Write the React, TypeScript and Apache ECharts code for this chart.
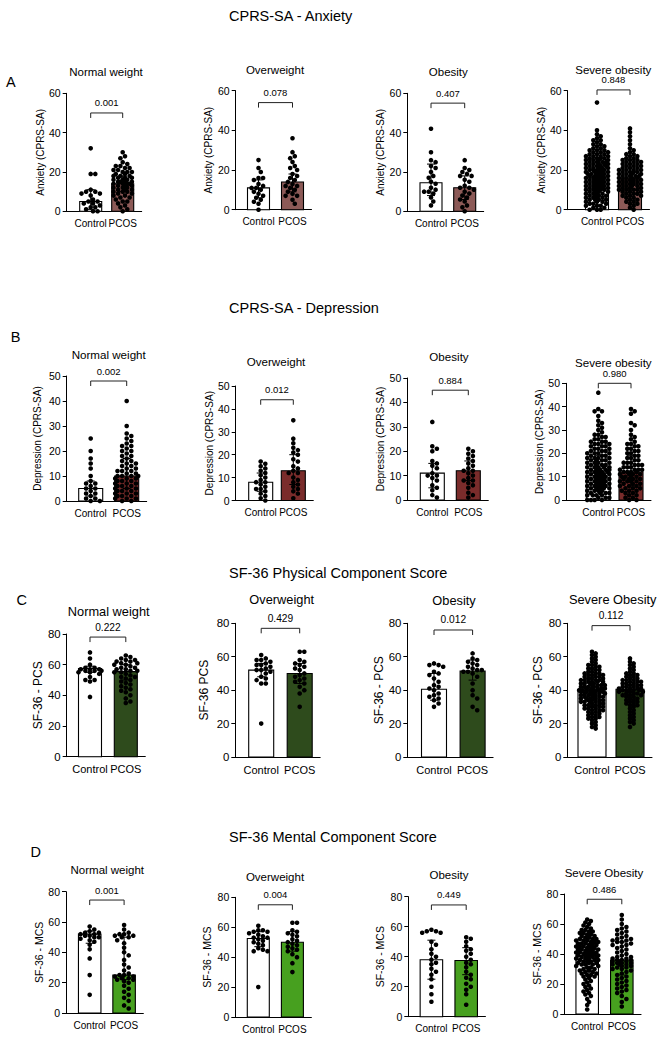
import React, { useEffect, useRef } from 'react';
import * as echarts from 'echarts';

// ---------------- DATA ----------------
const categories = ['Control', 'PCOS'];
const sectionTitles = ['CPRS-SA - Anxiety', 'CPRS-SA - Depression', 'SF-36 Physical Component Score', 'SF-36 Mental Component Score'];
const sectionLetters = ['A', 'B', 'C', 'D'];
const panelTitles = [
  'Normal weight', 'Overweight', 'Obesity', 'Severe obesity',
  'Normal weight', 'Overweight', 'Obesity', 'Severe obesity',
  'Normal weight', 'Overweight', 'Obesity', 'Severe Obesity',
  'Normal weight', 'Overweight', 'Obesity', 'Severe Obesity',
];
const yAxisNames = [
  'Anxiety (CPRS-SA)', 'Anxiety (CPRS-SA)', 'Anxiety (CPRS-SA)', 'Anxiety (CPRS-SA)',
  'Depression (CPRS-SA)', 'Depression (CPRS-SA)', 'Depression (CPRS-SA)', 'Depression (CPRS-SA)',
  'SF-36 - PCS', 'SF-36 PCS', 'SF-36 - PCS', 'SF-36 - PCS',
  'SF-36 - MCS', 'SF-36 - MCS', 'SF-36 - MCS', 'SF-36 - MCS',
];
const yMaxes = [60, 60, 60, 60, 50, 50, 50, 50, 80, 80, 80, 80, 80, 80, 80, 80];
const yIntervals = [20, 20, 20, 20, 10, 10, 10, 10, 20, 20, 20, 20, 20, 20, 20, 20];
const pValues = ['0.001', '0.078', '0.407', '0.848', '0.002', '0.012', '0.884', '0.980', '0.222', '0.429', '0.012', '0.112', '0.001', '0.004', '0.449', '0.486'];
const bracketLevels = [50, 54, 55, 60.4, 48, 44, 45, 50, 78, 77, 76, 78.6, 74.5, 75, 74.5, 76.5];
const barMedians = [
  [5, 14], [11, 14], [14.5, 12], [16.5, 16],
  [5, 10], [8, 13], [11, 12], [12, 12],
  [57.5, 55.5], [52, 50], [40.5, 51.5], [39, 40.5],
  [52, 25], [52.5, 50], [38, 37.5], [39, 36],
];
const errorLow = [
  [1, 10], [6, 9], [8, 6], [10, 10],
  [2, 5], [4, 7], [5, 8], [6, 6],
  [55, 50], [48, 44], [34, 46], [31, 33],
  [46, 22], [47, 44], [25, 28], [28, 26],
];
const errorHigh = [
  [11, 18], [15, 18], [24, 18], [24, 22],
  [8, 17], [12, 20], [15, 16], [19, 19],
  [59, 60], [56, 56], [50, 58], [48, 48],
  [54, 50], [57, 57], [51, 46], [50, 48],
];

// Anxiety
const a1Control = [32, 19, 19, 11, 10, 10, 9, 9, 8, 6, 5, 5, 4, 4, 3, 2, 2, 1, 0, 0];
const a1Pcos = [30, 28, 27, 25, 24, 23, 23, 22, 22, 21, 21, 20, 20, 20, 19, 19, 18, 18, 18, 17, 17, 17, 16, 16, 16, 15, 15, 15, 15, 14, 14, 14, 14, 13, 13, 13, 12, 12, 12, 11, 11, 11, 10, 10, 10, 9, 9, 8, 8, 7, 7, 6, 5, 5, 4, 3, 2, 1, 0];
const a2Control = [25, 21, 19, 16, 16, 15, 13, 12, 11, 11, 10, 9, 8, 7, 6, 5, 4, 3, 0];
const a2Pcos = [36, 29, 27, 26, 24, 22, 21, 20, 18, 17, 16, 15, 14, 13, 12, 12, 11, 10, 9, 8, 7, 7, 5, 3];
const a3Control = [42, 30, 26, 25, 23, 22, 20, 18, 17, 15, 14, 12, 11, 10, 10, 9, 7, 5, 3];
const a3Pcos = [26, 22, 21, 20, 19, 18, 18, 16, 15, 13, 12, 12, 11, 10, 9, 8, 7, 6, 5, 3, 2, 0];
const a4Control = [54, 40, 38, 37, 36, 35, 35, 34, 33, 33, 32, 32, 31, 31, 30, 30, 30, 29, 29, 29, 28, 28, 28, 27, 27, 27, 27, 26, 26, 26, 26, 25, 25, 25, 25, 24, 24, 24, 24, 23, 23, 23, 23, 23, 22, 22, 22, 22, 21, 21, 21, 21, 21, 20, 20, 20, 20, 20, 19, 19, 19, 19, 19, 18, 18, 18, 18, 18, 17, 17, 17, 17, 17, 16, 16, 16, 16, 16, 15, 15, 15, 15, 15, 14, 14, 14, 14, 14, 13, 13, 13, 13, 13, 12, 12, 12, 12, 12, 11, 11, 11, 11, 11, 10, 10, 10, 10, 10, 9, 9, 9, 9, 8, 8, 8, 8, 7, 7, 7, 7, 6, 6, 6, 6, 5, 5, 5, 5, 4, 4, 4, 3, 3, 3, 2, 2, 2, 1, 1, 0, 0, 0];
const a4Pcos = [41, 39, 37, 35, 33, 31, 30, 29, 28, 28, 27, 27, 26, 26, 25, 25, 25, 24, 24, 24, 23, 23, 23, 22, 22, 22, 21, 21, 21, 20, 20, 20, 20, 19, 19, 19, 19, 18, 18, 18, 18, 17, 17, 17, 17, 16, 16, 16, 16, 15, 15, 15, 15, 14, 14, 14, 14, 13, 13, 13, 13, 12, 12, 12, 12, 11, 11, 11, 10, 10, 10, 10, 9, 9, 9, 8, 8, 8, 7, 7, 7, 6, 6, 5, 5, 4, 4, 3, 3, 2, 1, 0];

// Depression
const b1Control = [25, 20, 17, 15, 13, 10, 8, 7, 7, 6, 5, 5, 4, 3, 3, 2, 1, 1, 0, 0];
const b1Pcos = [40, 30, 27, 26, 25, 24, 23, 22, 22, 21, 20, 20, 19, 18, 18, 17, 16, 16, 15, 15, 14, 14, 13, 13, 12, 12, 12, 11, 11, 10, 10, 10, 10, 9, 9, 9, 8, 8, 8, 7, 7, 7, 6, 6, 6, 5, 5, 5, 4, 4, 4, 3, 3, 3, 2, 2, 2, 1, 1, 1, 0, 0];
const b2Control = [17, 16, 15, 14, 13, 12, 11, 10, 9, 8, 8, 7, 6, 5, 5, 4, 3, 2, 1, 0];
const b2Pcos = [35, 27, 25, 23, 22, 21, 20, 18, 17, 15, 14, 13, 12, 12, 10, 9, 8, 7, 6, 5, 4, 3, 1];
const b3Control = [32, 22, 21, 20, 16, 15, 14, 13, 11, 10, 10, 9, 8, 6, 5, 4, 2, 1];
const b3Pcos = [21, 20, 19, 18, 17, 16, 15, 14, 13, 12, 12, 11, 10, 9, 8, 8, 7, 6, 5, 3, 2, 1];
const b4Control = [46, 39, 38, 38, 36, 34, 33, 32, 31, 30, 29, 28, 28, 27, 27, 26, 26, 25, 25, 25, 24, 24, 24, 23, 23, 23, 22, 22, 22, 21, 21, 21, 20, 20, 20, 20, 19, 19, 19, 18, 18, 18, 18, 17, 17, 17, 17, 16, 16, 16, 16, 15, 15, 15, 15, 14, 14, 14, 14, 14, 13, 13, 13, 13, 13, 12, 12, 12, 12, 12, 11, 11, 11, 11, 11, 10, 10, 10, 10, 10, 9, 9, 9, 9, 9, 8, 8, 8, 8, 8, 7, 7, 7, 7, 7, 6, 6, 6, 6, 6, 5, 5, 5, 5, 5, 4, 4, 4, 4, 3, 3, 3, 3, 2, 2, 2, 2, 1, 1, 1, 0, 0, 0, 0];
const b4Pcos = [39, 38, 37, 33, 32, 30, 28, 27, 26, 25, 24, 24, 23, 23, 22, 22, 21, 21, 20, 20, 19, 19, 18, 18, 17, 17, 16, 16, 16, 15, 15, 15, 14, 14, 14, 13, 13, 13, 13, 12, 12, 12, 12, 11, 11, 11, 11, 10, 10, 10, 10, 9, 9, 9, 9, 8, 8, 8, 8, 7, 7, 7, 6, 6, 6, 5, 5, 5, 4, 4, 4, 3, 3, 2, 2, 1, 1, 0, 0];

// SF-36 PCS
const c1Control = [68, 64, 60, 58, 58, 57, 57, 57, 56, 56, 56, 55, 55, 54, 52, 50, 50, 49, 39];
const c1Pcos = [66, 65, 64, 63, 63, 62, 62, 61, 61, 60, 60, 59, 58, 58, 57, 57, 56, 56, 55, 55, 54, 53, 52, 52, 51, 50, 49, 48, 47, 46, 45, 44, 43, 42, 40, 38, 36, 35];
const c2Control = [61, 59, 58, 58, 57, 56, 55, 55, 54, 53, 52, 52, 51, 50, 48, 47, 46, 44, 44, 20];
const c2Pcos = [63, 63, 58, 57, 56, 55, 54, 53, 52, 50, 49, 48, 47, 46, 45, 44, 42, 40, 38, 30];
const c3Control = [56, 55, 55, 54, 51, 50, 49, 47, 45, 43, 42, 41, 40, 38, 37, 36, 35, 34, 32, 30];
const c3Pcos = [62, 59, 58, 57, 56, 55, 54, 53, 52, 52, 51, 51, 50, 48, 44, 40, 37, 35, 30, 28];
const c4Control = [63, 62, 61, 60, 59, 58, 57, 56, 55, 55, 54, 54, 53, 53, 52, 52, 51, 51, 50, 50, 50, 49, 49, 49, 48, 48, 48, 47, 47, 47, 46, 46, 46, 46, 45, 45, 45, 45, 44, 44, 44, 44, 43, 43, 43, 43, 42, 42, 42, 42, 41, 41, 41, 41, 41, 40, 40, 40, 40, 40, 39, 39, 39, 39, 39, 38, 38, 38, 38, 38, 37, 37, 37, 37, 36, 36, 36, 36, 35, 35, 35, 35, 34, 34, 34, 34, 33, 33, 33, 33, 32, 32, 32, 31, 31, 31, 30, 30, 30, 29, 29, 29, 28, 28, 28, 27, 27, 26, 26, 25, 25, 24, 24, 23, 23, 22, 21, 20, 19, 18, 17];
const c4Pcos = [59, 57, 56, 55, 54, 53, 52, 51, 50, 50, 49, 49, 48, 48, 47, 47, 46, 46, 46, 45, 45, 45, 44, 44, 44, 43, 43, 43, 42, 42, 42, 41, 41, 41, 41, 40, 40, 40, 40, 39, 39, 39, 38, 38, 38, 37, 37, 37, 36, 36, 35, 35, 34, 34, 33, 33, 32, 32, 31, 31, 30, 29, 28, 27, 26, 25, 24, 23, 22, 21, 20, 18];

// SF-36 MCS
const d1Control = [57, 55, 54, 53, 53, 52, 52, 51, 51, 50, 50, 49, 48, 47, 45, 42, 36, 25, 12];
const d1Pcos = [58, 55, 53, 52, 52, 51, 51, 50, 50, 48, 46, 43, 40, 38, 35, 32, 30, 28, 26, 25, 25, 24, 24, 23, 23, 22, 22, 21, 20, 18, 16, 14, 12, 10, 8, 5, 3];
const d2Control = [61, 58, 58, 57, 57, 56, 55, 54, 53, 53, 52, 51, 50, 49, 48, 46, 45, 44, 44, 20];
const d2Pcos = [63, 63, 58, 57, 56, 55, 54, 52, 51, 50, 49, 48, 47, 46, 45, 44, 42, 40, 36, 30];
const d3Control = [58, 57, 57, 56, 56, 50, 48, 45, 42, 40, 38, 36, 35, 32, 30, 28, 25, 20, 15, 10];
const d3Pcos = [53, 52, 50, 47, 45, 44, 42, 40, 38, 36, 35, 33, 30, 28, 26, 25, 22, 20, 18, 15, 8];
const d4Control = [63, 62, 61, 60, 59, 58, 57, 56, 56, 55, 55, 54, 54, 53, 53, 52, 52, 51, 51, 50, 50, 50, 49, 49, 49, 48, 48, 48, 47, 47, 47, 46, 46, 46, 45, 45, 45, 44, 44, 44, 43, 43, 43, 42, 42, 42, 41, 41, 41, 40, 40, 40, 40, 39, 39, 39, 39, 38, 38, 38, 38, 37, 37, 37, 36, 36, 36, 35, 35, 35, 34, 34, 34, 33, 33, 33, 32, 32, 31, 31, 30, 30, 29, 29, 28, 28, 27, 27, 26, 26, 25, 25, 24, 23, 22, 21, 20, 19, 18, 17, 16, 15, 14, 13, 12, 10, 8, 6, 3];
const d4Pcos = [66, 63, 60, 58, 57, 56, 55, 54, 53, 52, 51, 50, 50, 49, 49, 48, 48, 47, 46, 46, 45, 44, 43, 42, 41, 40, 39, 38, 38, 37, 37, 36, 36, 36, 35, 35, 35, 34, 34, 34, 33, 33, 33, 32, 32, 31, 31, 30, 30, 29, 28, 27, 26, 25, 24, 23, 22, 21, 20, 19, 18, 17, 16, 15, 14, 12, 10, 8, 5];

const dotSets = [
  [a1Control, a1Pcos], [a2Control, a2Pcos], [a3Control, a3Pcos], [a4Control, a4Pcos],
  [b1Control, b1Pcos], [b2Control, b2Pcos], [b3Control, b3Pcos], [b4Control, b4Pcos],
  [c1Control, c1Pcos], [c2Control, c2Pcos], [c3Control, c3Pcos], [c4Control, c4Pcos],
  [d1Control, d1Pcos], [d2Control, d2Pcos], [d3Control, d3Pcos], [d4Control, d4Pcos],
];

// ---------------- LAYOUT / STYLE ----------------
const FONT = "'Liberation Sans', Arial, Helvetica, sans-serif";
const pcosColors = ['#8c5a57', '#7a2c2b', '#2e4b1c', '#47a01f'];
const rowFonts = [
  { title: 11.5, tick: 10.5, p: 9.5, name: 10, cat: 10 },
  { title: 11.6, tick: 10.5, p: 9.5, name: 10, cat: 10 },
  { title: 12.8, tick: 11.4, p: 10.2, name: 12, cat: 11 },
  { title: 11.5, tick: 10.5, p: 9.5, name: 10.5, cat: 10 },
];
const sectionPos = [[229, 16], [229, 308.3], [229, 573.3], [229, 836.7]];
const letterPos = [[10.8, 81.7], [15.5, 336.7], [21.7, 600], [35.7, 851.7]];
const layout = [
  { ax: 66.7, c0: 90.7, c1: 122.7, top: 93.3, zero: 211.3, bw: 22, tx: 106, ty: 72, nx: 40 },
  { ax: 235.7, c0: 258.5, c1: 292.5, top: 90.7, zero: 209.7, bw: 22, tx: 275, ty: 70, nx: 208.7 },
  { ax: 407.3, c0: 431, c1: 464.7, top: 93.3, zero: 211.3, bw: 22, tx: 448.3, ty: 72.3, nx: 381 },
  { ax: 567.7, c0: 597, c1: 630, top: 90.7, zero: 209.7, bw: 23, tx: 613.3, ty: 70, nx: 547.3 },
  { ax: 66.7, c0: 90.7, c1: 126.7, top: 376, zero: 501, bw: 24, tx: 108.7, ty: 354, nx: 37.3 },
  { ax: 235.7, c0: 260.7, c1: 293.3, top: 386, zero: 500.5, bw: 24, tx: 276, ty: 361.7, nx: 209.3 },
  { ax: 407.3, c0: 432.3, c1: 468.3, top: 378, zero: 500, bw: 24, tx: 449, ty: 356.7, nx: 381.7 },
  { ax: 566, c0: 598.3, c1: 631, top: 383.3, zero: 500, bw: 24, tx: 613.3, ty: 362.7, nx: 547.3 },
  { ax: 66.7, c0: 90, c1: 125.8, top: 634, zero: 756.7, bw: 23, tx: 108.7, ty: 611.7, nx: 40 },
  { ax: 235.3, c0: 261.2, c1: 299.7, top: 623.3, zero: 757, bw: 25, tx: 281.7, ty: 599.3, nx: 204 },
  { ax: 407.3, c0: 434, c1: 472.6, top: 623.3, zero: 757, bw: 25, tx: 454, ty: 600, nx: 380.7 },
  { ax: 567.3, c0: 592, c1: 630, top: 623.3, zero: 757, bw: 28, tx: 612.7, ty: 599.3, nx: 538.3 },
  { ax: 66, c0: 89.7, c1: 124.1, top: 891.7, zero: 1013, bw: 22.5, tx: 107.3, ty: 870, nx: 40 },
  { ax: 235.3, c0: 258.3, c1: 292.4, top: 897.3, zero: 1017, bw: 22, tx: 275, ty: 876.7, nx: 207.7 },
  { ax: 408.3, c0: 431.4, c1: 466.2, top: 896.7, zero: 1016.7, bw: 22.5, tx: 449, ty: 875, nx: 380 },
  { ax: 564.3, c0: 587.2, c1: 621.8, top: 894, zero: 1014, bw: 22.5, tx: 604, ty: 872.7, nx: 537.3 },
];
const DOT_R = 2.3;

// deterministic beeswarm placement (pixel offsets); dense groups pack with some overlap
function swarmOffsets(vals: number[], pxPerUnit: number, maxHalf: number, d: number): number[] {
  const dense = vals.length > 70;
  const idx = vals.map((_, i) => i).sort((a, b) => vals[b] - vals[a]);
  const placed: { x: number; y: number }[] = [];
  const out: number[] = new Array(vals.length).fill(0);
  const step = dense ? d * 0.4 : d * 0.5;
  const thr = dense ? d * 0.72 : d * 0.9;
  const cands: number[] = [0];
  for (let k = 1; k * step <= maxHalf; k++) cands.push(k * step, -k * step);
  for (const i of idx) {
    const y = vals[i] * pxPerUnit;
    let best = 0;
    let bestScore = -Infinity;
    for (const cx of cands) {
      let minD = Infinity;
      for (const p of placed) {
        const dy = p.y - y;
        if (Math.abs(dy) >= d) continue;
        const dx = p.x - cx;
        const dd = Math.sqrt(dx * dx + dy * dy);
        if (dd < minD) minD = dd;
      }
      if (minD >= thr) { best = cx; break; }
      if (minD > bestScore) { bestScore = minD; best = cx; }
    }
    placed.push({ x: best, y });
    out[i] = best;
  }
  return out;
}

function buildOption(): any {
  const grids: any[] = [];
  const xAxes: any[] = [];
  const yAxes: any[] = [];
  const series: any[] = [];
  const graphics: any[] = [];

  sectionTitles.forEach((t, r) => {
    graphics.push({ type: 'text', x: sectionPos[r][0], y: sectionPos[r][1], silent: true,
      style: { text: t, fontSize: 14.5, fontFamily: FONT, fill: '#000', align: 'left', verticalAlign: 'middle' } });
    graphics.push({ type: 'text', x: letterPos[r][0], y: letterPos[r][1], silent: true,
      style: { text: sectionLetters[r], fontSize: 14.5, fontFamily: FONT, fill: '#000', align: 'center', verticalAlign: 'middle' } });
  });

  layout.forEach((L, i) => {
    const row = Math.floor(i / 4);
    const F = rowFonts[row];
    const color = pcosColors[row];
    const sp = L.c1 - L.c0;
    const xmin = -(L.c0 - L.ax) / sp;
    const rightPx = L.c1 + L.bw / 2 + 8;
    const xmax = 1 + (rightPx - L.c1) / sp;
    const pxPerUnit = (L.zero - L.top) / yMaxes[i];
    const bw = L.bw;

    graphics.push({ type: 'text', x: L.tx, y: L.ty, silent: true,
      style: { text: panelTitles[i], fontSize: F.title, fontFamily: FONT, fill: '#000', align: 'center', verticalAlign: 'middle' } });

    grids.push({ left: L.ax, top: L.top, width: rightPx - L.ax, height: L.zero - L.top });
    xAxes.push({
      type: 'value', gridIndex: i, min: xmin, max: xmax,
      axisLine: { show: true, onZero: false, lineStyle: { color: '#000', width: 1 } },
      axisTick: { show: false },
      splitLine: { show: false },
      axisLabel: {
        customValues: [0, 1],
        formatter: (v: number) => (Math.abs(v) < 1e-6 ? categories[0] : Math.abs(v - 1) < 1e-6 ? categories[1] : ''),
        fontSize: F.cat, fontFamily: FONT, color: '#000', margin: 7,
      },
    });
    yAxes.push({
      type: 'value', gridIndex: i, min: 0, max: yMaxes[i], interval: yIntervals[i],
      axisLine: { show: true, onZero: false, lineStyle: { color: '#000', width: 1 } },
      axisTick: { show: true, length: 4, lineStyle: { color: '#000', width: 1 } },
      axisLabel: { fontSize: F.tick, fontFamily: FONT, color: '#000', margin: 6 },
      splitLine: { show: false },
      name: yAxisNames[i], nameLocation: 'middle', nameGap: (L.ax - L.nx) - F.name / 2,
      nameTextStyle: { fontSize: F.name, fontFamily: FONT, color: '#000' },
    });

    const barData = [0, 1].map((g) => [g, barMedians[i][g], errorLow[i][g], errorHigh[i][g]]);

    series.push({
      type: 'custom', xAxisIndex: i, yAxisIndex: i, z: 2, encode: { x: 0, y: 1 },
      data: barData,
      renderItem: (params: any, api: any) => {
        const g = api.value(0);
        const c = api.coord([g, api.value(1)]);
        const b = api.coord([g, 0]);
        return { type: 'rect', shape: { x: c[0] - bw / 2, y: c[1], width: bw, height: b[1] - c[1] },
          style: { fill: g === 0 ? '#ffffff' : color, stroke: '#000', lineWidth: 1.1 } };
      },
    });

    const dotData: any[] = [];
    [0, 1].forEach((g) => {
      const vals = dotSets[i][g];
      const offs = swarmOffsets(vals, pxPerUnit, bw / 2, DOT_R * 2);
      vals.forEach((v, k) => dotData.push([g, v, offs[k]]));
    });
    series.push({
      type: 'custom', xAxisIndex: i, yAxisIndex: i, z: 3, encode: { x: 0, y: 1 },
      data: dotData,
      renderItem: (params: any, api: any) => {
        const p = api.coord([api.value(0), api.value(1)]);
        return { type: 'circle', shape: { cx: p[0] + api.value(2), cy: p[1], r: DOT_R }, style: { fill: '#000' } };
      },
    });

    series.push({
      type: 'custom', xAxisIndex: i, yAxisIndex: i, z: 4, encode: { x: 0, y: 1 },
      data: barData,
      renderItem: (params: any, api: any) => {
        const g = api.value(0);
        const lo = api.coord([g, api.value(2)]);
        const hi = api.coord([g, api.value(3)]);
        const cw = 4;
        const st = { stroke: '#000', lineWidth: 1 };
        return { type: 'group', children: [
          { type: 'line', shape: { x1: lo[0], y1: lo[1], x2: hi[0], y2: hi[1] }, style: st },
          { type: 'line', shape: { x1: hi[0] - cw, y1: hi[1], x2: hi[0] + cw, y2: hi[1] }, style: st },
          { type: 'line', shape: { x1: lo[0] - cw, y1: lo[1], x2: lo[0] + cw, y2: lo[1] }, style: st },
        ] };
      },
    });

    series.push({
      type: 'custom', xAxisIndex: i, yAxisIndex: i, z: 4, encode: { x: 0, y: 1 },
      data: [[0, bracketLevels[i]]],
      renderItem: (params: any, api: any) => {
        const lvl = api.value(1);
        const p0 = api.coord([0, lvl]);
        const p1 = api.coord([1, lvl]);
        const leg = 5;
        return { type: 'group', children: [
          { type: 'polyline', shape: { points: [[p0[0], p0[1] + leg], [p0[0], p0[1]], [p1[0], p1[1]], [p1[0], p1[1] + leg]] },
            style: { stroke: '#222', lineWidth: 1, fill: 'none' } },
          { type: 'text', x: (p0[0] + p1[0]) / 2, y: p0[1] - 10,
            style: { text: pValues[i], fontSize: F.p, fontFamily: FONT, fill: '#000', align: 'center', verticalAlign: 'middle' } },
        ] };
      },
    });
  });

  return {
    animation: false,
    backgroundColor: '#ffffff',
    grid: grids,
    xAxis: xAxes,
    yAxis: yAxes,
    series,
    graphic: graphics,
  };
}

export default function App() {
  const ref = useRef<HTMLDivElement>(null);
  useEffect(() => {
    if (!ref.current) return;
    const chart = echarts.init(ref.current, null, { renderer: 'svg' });
    chart.setOption(buildOption());
    return () => chart.dispose();
  }, []);
  return (
    <div
      ref={ref}
      style={{ position: 'absolute', left: 0, top: 0, width: 661, height: 1038, background: '#ffffff' }}
    />
  );
}
